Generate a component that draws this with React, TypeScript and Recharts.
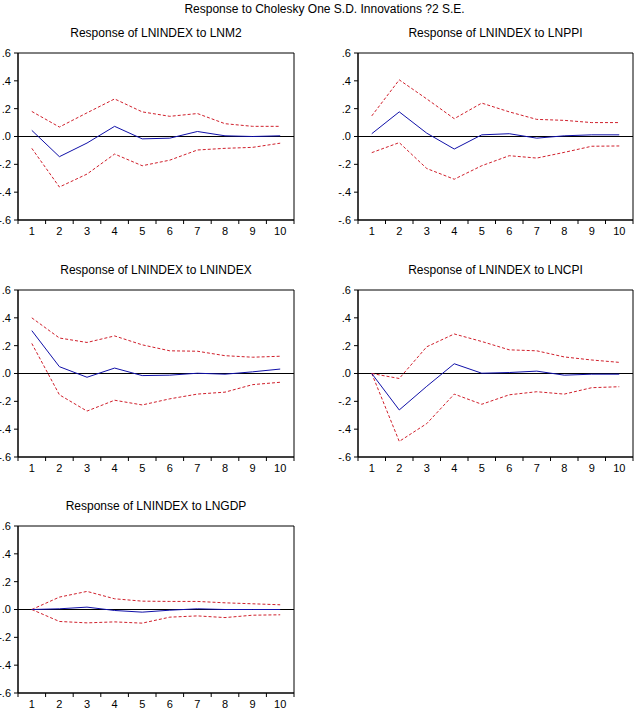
import { Line, LineChart, ReferenceArea, ReferenceLine, XAxis, YAxis } from "recharts";

// impulse responses of LNINDEX, periods 1..10, with +/- 2 S.E. bands
const periods = [1, 2, 3, 4, 5, 6, 7, 8, 9, 10];
const bandEdges = [0.5, 1.5, 2.5, 3.5, 4.5, 5.5, 6.5, 7.5, 8.5, 9.5, 10.5];
const yTicks = [-0.6, -0.4, -0.2, 0, 0.2, 0.4, 0.6];

const m2Response = [0.044, -0.145, -0.047, 0.073, -0.017, -0.012, 0.036, 0.005, 0.0, 0.005];
const m2Upper = [0.18, 0.068, 0.17, 0.27, 0.177, 0.145, 0.165, 0.092, 0.073, 0.073];
const m2Lower = [-0.085, -0.363, -0.27, -0.126, -0.21, -0.17, -0.097, -0.085, -0.078, -0.048];

const ppiResponse = [0.02, 0.177, 0.024, -0.09, 0.012, 0.02, -0.012, 0.005, 0.012, 0.012];
const ppiUpper = [0.148, 0.407, 0.27, 0.128, 0.24, 0.177, 0.123, 0.116, 0.1, 0.1];
const ppiLower = [-0.116, -0.044, -0.23, -0.307, -0.21, -0.138, -0.155, -0.114, -0.07, -0.068];

const indexResponse = [0.308, 0.049, -0.027, 0.039, -0.015, -0.012, 0.002, -0.005, 0.012, 0.032];
const indexUpper = [0.4, 0.255, 0.223, 0.27, 0.206, 0.163, 0.16, 0.128, 0.117, 0.124];
const indexLower = [0.216, -0.153, -0.27, -0.192, -0.226, -0.182, -0.148, -0.134, -0.08, -0.063];

const cpiResponse = [0.0, -0.262, -0.092, 0.07, 0.002, 0.007, 0.017, -0.012, -0.005, -0.005];
const cpiUpper = [0.0, -0.036, 0.192, 0.284, 0.23, 0.17, 0.163, 0.119, 0.097, 0.08];
const cpiLower = [0.0, -0.488, -0.36, -0.148, -0.221, -0.153, -0.131, -0.148, -0.102, -0.095];

const gdpResponse = [0.0, 0.005, 0.017, -0.007, -0.019, -0.005, 0.005, 0.0, 0.0, 0.0];
const gdpUpper = [0.0, 0.089, 0.13, 0.077, 0.06, 0.058, 0.058, 0.048, 0.041, 0.034];
const gdpLower = [0.0, -0.086, -0.096, -0.089, -0.098, -0.055, -0.046, -0.058, -0.041, -0.038];

const FONT = '"Liberation Sans", Arial, sans-serif';
const AXIS_W = 30;
const PLOT_H = 167;

const fmt = (v: number) => {
  const s = "." + Math.round(Math.abs(v) * 10);
  return v < -1e-9 ? "-" + s : s;
};

type PanelProps = {
  title: string;
  response: number[];
  upper: number[];
  lower: number[];
  left: number;
  top: number;
  plotWidth: number;
};

function Panel({ title, response, upper, lower, left, top, plotWidth }: PanelProps) {
  const data = periods.map((p, i) => ({
    period: p,
    response: response[i],
    upper: upper[i],
    lower: lower[i],
  }));
  return (
    <>
      <div
        style={{
          position: "absolute",
          left,
          top: top - 27,
          width: plotWidth,
          textAlign: "center",
          fontFamily: FONT,
          fontSize: 12,
          lineHeight: "14px",
          color: "#000",
        }}
      >
        {title}
      </div>
      <div style={{ position: "absolute", left: left - AXIS_W, top: top - 5 }}>
        <LineChart
          width={AXIS_W + plotWidth + 3}
          height={5 + PLOT_H + 5 + 20}
          data={data}
          margin={{ top: 5, right: 3, bottom: 0, left: 0 }}
        >
          {/* "a" holds the tick marks at band edges, "b" the period labels below it */}
          <XAxis
            xAxisId="a"
            type="number"
            dataKey="period"
            domain={[0.5, 10.5]}
            ticks={bandEdges}
            interval={0}
            tickFormatter={() => ""}
            tickSize={4}
            height={5}
            stroke="#000"
          />
          <XAxis
            xAxisId="b"
            type="number"
            dataKey="period"
            domain={[0.5, 10.5]}
            ticks={periods}
            interval={0}
            tickLine={false}
            axisLine={false}
            tickSize={0}
            tickMargin={2}
            height={20}
            tick={{ fill: "#000", fontSize: 11, fontFamily: FONT }}
          />
          <YAxis
            yAxisId="y"
            type="number"
            domain={[-0.6, 0.6]}
            ticks={yTicks}
            interval={0}
            allowDataOverflow
            width={AXIS_W}
            tickSize={4}
            tickMargin={3}
            tickFormatter={fmt}
            stroke="#000"
            tick={{ fill: "#000", fontSize: 11, fontFamily: FONT }}
          />
          <ReferenceArea
            xAxisId="a"
            yAxisId="y"
            x1={0.5}
            x2={10.5}
            y1={-0.6}
            y2={0.6}
            fill="none"
            fillOpacity={0}
            stroke="#000"
            strokeOpacity={1}
          />
          <ReferenceLine xAxisId="a" yAxisId="y" y={0} stroke="#000" />
          <Line
            xAxisId="a"
            yAxisId="y"
            type="linear"
            dataKey="upper"
            stroke="#d0202c"
            strokeWidth={1}
            strokeDasharray="3 2"
            dot={false}
            isAnimationActive={false}
          />
          <Line
            xAxisId="a"
            yAxisId="y"
            type="linear"
            dataKey="lower"
            stroke="#d0202c"
            strokeWidth={1}
            strokeDasharray="3 2"
            dot={false}
            isAnimationActive={false}
          />
          <Line
            xAxisId="a"
            yAxisId="y"
            type="linear"
            dataKey="response"
            stroke="#1010a8"
            strokeWidth={1}
            dot={false}
            isAnimationActive={false}
          />
        </LineChart>
      </div>
    </>
  );
}

export default function App() {
  return (
    <div
      style={{
        position: "absolute",
        left: 0,
        top: 0,
        width: 637,
        height: 709,
        overflow: "hidden",
        background: "#fff",
      }}
    >
      <div
        style={{
          position: "absolute",
          left: 6,
          top: 1,
          width: 637,
          textAlign: "center",
          fontFamily: FONT,
          fontSize: 12,
          lineHeight: "16px",
          color: "#000",
        }}
      >
        Response to Cholesky One S.D. Innovations ?2 S.E.
      </div>
      <Panel title="Response of LNINDEX to LNM2" response={m2Response} upper={m2Upper} lower={m2Lower} left={18} top={53} plotWidth={276} />
      <Panel title="Response of LNINDEX to LNPPI" response={ppiResponse} upper={ppiUpper} lower={ppiLower} left={358} top={53} plotWidth={275} />
      <Panel title="Response of LNINDEX to LNINDEX" response={indexResponse} upper={indexUpper} lower={indexLower} left={18} top={290} plotWidth={276} />
      <Panel title="Response of LNINDEX to LNCPI" response={cpiResponse} upper={cpiUpper} lower={cpiLower} left={358} top={290} plotWidth={275} />
      <Panel title="Response of LNINDEX to LNGDP" response={gdpResponse} upper={gdpUpper} lower={gdpLower} left={18} top={526} plotWidth={276} />
    </div>
  );
}
